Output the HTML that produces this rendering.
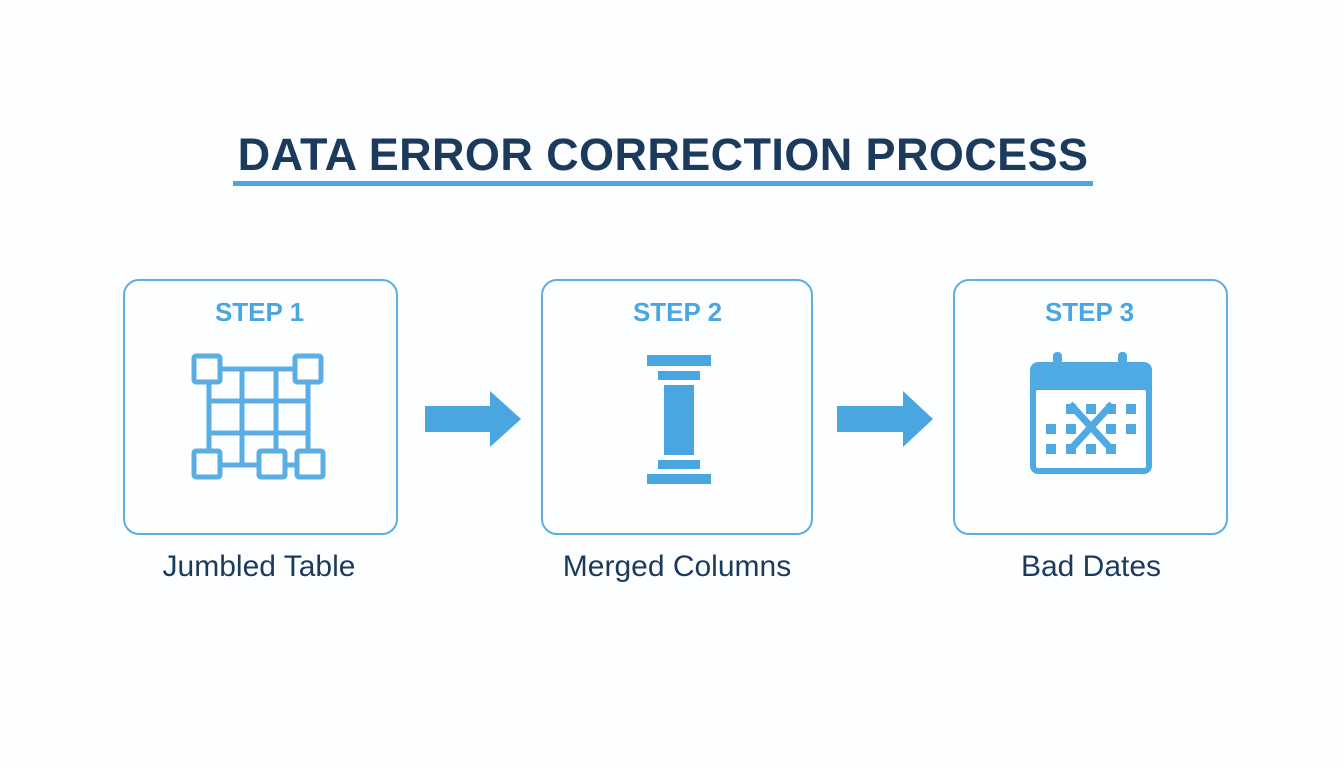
<!DOCTYPE html>
<html><head><style>
body{margin:0;width:1344px;height:768px;background:#fdfeff;font-family:"Liberation Sans",sans-serif;position:relative;overflow:hidden}
.t{position:absolute;left:0;width:1326px;text-align:center;top:129px;font-size:45px;font-weight:bold;color:#1b3a5c;letter-spacing:0.4px}
.ul{position:absolute;left:233px;top:181px;width:860px;height:5px;background:#4aa6e0}
.box{position:absolute;top:279px;width:275px;height:256px;border:2.5px solid #5aaee4;border-radius:16px;box-sizing:border-box}
.st{position:absolute;top:297px;width:275px;text-align:center;font-size:26px;font-weight:bold;color:#4aa6e0}
.lb{position:absolute;top:550px;font-size:30px;color:#1b3a5c;text-align:center;width:300px}
</style></head><body>
<div class="t">DATA ERROR CORRECTION PROCESS</div>
<div class="ul"></div>
<div class="box" style="left:123px"></div>
<div class="box" style="left:541px;width:272px"></div>
<div class="box" style="left:953px"></div>
<div class="st" style="left:122px">STEP 1</div>
<div class="st" style="left:540px">STEP 2</div>
<div class="st" style="left:952px">STEP 3</div>
<div class="lb" style="left:109px">Jumbled Table</div>
<div class="lb" style="left:527px">Merged Columns</div>
<div class="lb" style="left:941px">Bad Dates</div>
<svg width="1344" height="768" style="position:absolute;left:0;top:0">
<g fill="#4aa6e0">
<polygon points="425,406 490,406 490,391 521,419 490,447 490,432 425,432"/>
<polygon points="837,406 903,406 903,391 933,419 903,447 903,432 837,432"/>
<rect x="647" y="355" width="64" height="11"/><rect x="658" y="371" width="42" height="9"/>
<rect x="664" y="385" width="30" height="70"/><rect x="658" y="460" width="42" height="9"/>
<rect x="647" y="474" width="64" height="10"/>
</g>
<g stroke="#5aaee4" stroke-width="5" fill="none">
<path d="M208 369H308M208 401H308M208 433H308M208 465H308M209 369V465M242 369V465M276 369V465M308 369V465"/>
<g fill="#fff" stroke-linejoin="round"><rect x="194" y="356" width="26" height="26" rx="2"/><rect x="295" y="356" width="26" height="26" rx="2"/><rect x="194" y="451" width="26" height="26" rx="2"/><rect x="259" y="451" width="26" height="26" rx="2"/><rect x="297" y="451" width="26" height="26" rx="2"/></g>
</g>
<g fill="#4fa9e2">
<rect x="1030" y="362" width="122" height="112" rx="8"/>
<rect x="1036" y="390" width="110" height="78" rx="2" fill="#fff"/>
<rect x="1053" y="352" width="9" height="16" rx="4"/><rect x="1118" y="352" width="9" height="16" rx="4"/>
<rect x="1066" y="404" width="10" height="10"/><rect x="1086" y="404" width="10" height="10"/><rect x="1106" y="404" width="10" height="10"/><rect x="1126" y="404" width="10" height="10"/>
<rect x="1046" y="424" width="10" height="10"/><rect x="1066" y="424" width="10" height="10"/><rect x="1106" y="424" width="10" height="10"/><rect x="1126" y="424" width="10" height="10"/>
<rect x="1046" y="444" width="10" height="10"/><rect x="1066" y="444" width="10" height="10"/><rect x="1086" y="444" width="10" height="10"/><rect x="1106" y="444" width="10" height="10"/>
<path d="M1070 404L1112 450M1112 404L1070 450" stroke="#4fa9e2" stroke-width="7"/>
</g>
</svg>
</body></html>
